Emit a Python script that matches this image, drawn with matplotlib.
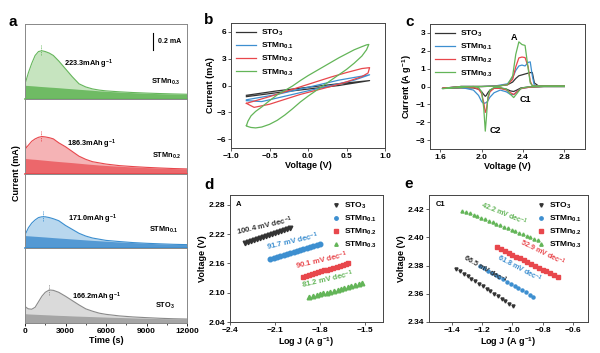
import numpy as np
import matplotlib
matplotlib.use('Agg')
import matplotlib.pyplot as plt

plt.rcParams['font.family'] = ['Liberation Sans', 'DejaVu Sans']
plt.rcParams['font.weight'] = 'bold'
plt.rcParams['axes.labelweight'] = 'bold'
plt.rcParams['mathtext.fontset'] = 'custom'
plt.rcParams['mathtext.bf'] = 'Liberation Sans:bold'
plt.rcParams['mathtext.rm'] = 'Liberation Sans:bold'
plt.rcParams['mathtext.default'] = 'bf'

names = ['STO$_3$', 'STMn$_{0.1}$', 'STMn$_{0.2}$', 'STMn$_{0.3}$']
colors = ['#333333', '#3d8fd0', '#e8474c', '#63b558']

# ---- panel a: discharge current vs time
t_a = [0, 60, 250, 500, 750, 1000, 1250, 1500, 1800, 2100, 2500, 3000, 3500,
       4000, 4500, 5000, 5500, 6000, 7000, 8000, 9000, 10000, 11000, 12000]
cur_a = {
    'STMn0.3': [0.26, 0.22, 0.33, 0.45, 0.55, 0.60, 0.61, 0.60, 0.58, 0.55, 0.48, 0.38, 0.28,
                0.19, 0.15, 0.125, 0.11, 0.10, 0.088, 0.079, 0.072, 0.066, 0.061, 0.057],
    'STMn0.2': [0.55, 0.32, 0.36, 0.41, 0.44, 0.46, 0.47, 0.465, 0.455, 0.44, 0.39, 0.34, 0.28,
                0.22, 0.18, 0.15, 0.135, 0.12, 0.10, 0.088, 0.078, 0.07, 0.063, 0.058],
    'STMn0.1': [0.22, 0.19, 0.26, 0.32, 0.36, 0.39, 0.40, 0.40, 0.39, 0.375, 0.35, 0.29, 0.24,
                0.19, 0.155, 0.13, 0.115, 0.10, 0.085, 0.072, 0.063, 0.056, 0.05, 0.046],
    'STO3':    [0.23, 0.20, 0.18, 0.175, 0.20, 0.27, 0.34, 0.39, 0.42, 0.415, 0.39, 0.34, 0.285,
                0.23, 0.18, 0.15, 0.125, 0.11, 0.09, 0.077, 0.068, 0.06, 0.054, 0.05],
}
base_a = {
    'STMn0.3': [0.18, 0.17, 0.168, 0.165, 0.162, 0.158, 0.155, 0.152, 0.148, 0.145, 0.14, 0.133, 0.127,
                0.12, 0.114, 0.108, 0.10, 0.095, 0.085, 0.077, 0.07, 0.064, 0.06, 0.055],
    'STMn0.2': [0.2, 0.19, 0.187, 0.183, 0.18, 0.176, 0.172, 0.168, 0.163, 0.158, 0.152, 0.145, 0.138,
                0.13, 0.122, 0.115, 0.108, 0.102, 0.092, 0.083, 0.075, 0.068, 0.062, 0.057],
    'STMn0.1': [0.17, 0.16, 0.158, 0.155, 0.152, 0.149, 0.146, 0.143, 0.139, 0.135, 0.13, 0.124, 0.118,
                0.112, 0.106, 0.1, 0.095, 0.09, 0.08, 0.072, 0.064, 0.057, 0.051, 0.046],
    'STO3':    [0.12, 0.118, 0.115, 0.113, 0.111, 0.109, 0.107, 0.105, 0.103, 0.1, 0.097, 0.094, 0.09,
                0.087, 0.084, 0.081, 0.078, 0.075, 0.07, 0.065, 0.06, 0.056, 0.052, 0.049],
}
peak_a = {'STMn0.3': (1150, 0.61), 'STMn0.2': (1200, 0.47), 'STMn0.1': (1300, 0.40), 'STO3': (1800, 0.42)}
cap_a = {'STMn0.3': '223.3mAh g$^{-1}$', 'STMn0.2': '186.3mAh g$^{-1}$',
         'STMn0.1': '171.0mAh g$^{-1}$', 'STO3': '166.2mAh g$^{-1}$'}
lab_a = {'STMn0.3': 'STMn$_{0.3}$', 'STMn0.2': 'STMn$_{0.2}$', 'STMn0.1': 'STMn$_{0.1}$', 'STO3': 'STO$_3$'}
cap_pos = {'STMn0.3': (4700, 0.44), 'STMn0.2': (4900, 0.37), 'STMn0.1': (5000, 0.37), 'STO3': (5300, 0.33)}
lab_pos = {'STMn0.3': (10400, 0.21), 'STMn0.2': (10450, 0.23), 'STMn0.1': (10250, 0.23), 'STO3': (10350, 0.22)}
a_order = ['STMn0.3', 'STMn0.2', 'STMn0.1', 'STO3']
a_style = {'STMn0.3': ('#66b65c', '#c6e4bf', '#6fbb64'),
           'STMn0.2': ('#e8474c', '#f5b3b5', '#ec676b'),
           'STMn0.1': ('#3b8ecf', '#b8d7ee', '#5499d3'),
           'STO3':    ('#8a8a8a', '#dadada', '#a5a5a5')}

# ---- panel b: CV loops (V, mA)
cv_b = {
    'STO3': ([-0.8, -0.4, 0.0, 0.4, 0.8, 0.4, 0.0, -0.4, -0.8],
             [-1.1, -0.6, -0.2, 0.2, 0.55, 0.0, -0.4, -0.8, -1.25]),
    'STMn0.1': ([-0.8, -0.6, -0.4, -0.2, 0.0, 0.2, 0.4, 0.6, 0.8, 0.6, 0.4, 0.2, 0.0, -0.2, -0.4, -0.6, -0.8],
                [-1.6, -1.3, -1.0, -0.6, -0.2, 0.2, 0.6, 0.9, 1.2, 0.6, 0.2, -0.2, -0.6, -1.0, -1.4, -1.8, -1.7]),
    'STMn0.2': ([-0.8, -0.7, -0.5, -0.3, -0.1, 0.1, 0.3, 0.5, 0.7, 0.8,
                 0.78, 0.7, 0.5, 0.3, 0.1, -0.1, -0.3, -0.5, -0.7, -0.8],
                [-2.0, -1.75, -1.25, -0.7, -0.15, 0.4, 0.95, 1.45, 1.9, 2.0,
                 1.4, 1.0, 0.4, -0.1, -0.55, -1.0, -1.55, -2.1, -2.45, -2.0]),
    'STMn0.3': ([-0.8, -0.78, -0.74, -0.68, -0.6, -0.5, -0.4, -0.3, -0.2, -0.1, 0.0, 0.1, 0.2, 0.3, 0.4,
                 0.5, 0.6, 0.7, 0.76, 0.79,
                 0.76, 0.7, 0.6, 0.5, 0.4, 0.3, 0.2, 0.1, 0.0, -0.1, -0.2, -0.3, -0.4, -0.5, -0.6,
                 -0.68, -0.74, -0.78, -0.8],
                [-4.5, -4.0, -3.4, -2.9, -2.4, -1.7, -1.05, -0.55, -0.05, 0.55, 1.1, 1.6, 2.1, 2.6, 3.1,
                 3.55, 4.0, 4.35, 4.55, 4.6,
                 4.0, 3.3, 2.5, 1.8, 1.2, 0.6, 0.0, -0.6, -1.2, -1.85, -2.6, -3.3, -3.9, -4.35, -4.65,
                 -4.75, -4.7, -4.6, -4.5]),
}

# ---- panel c: slow CV (V, A g-1)
vc_c = [2.80, 2.60, 2.45, 2.38, 2.34, 2.31, 2.28, 2.24, 2.18, 2.12, 2.08, 2.06, 2.045, 2.035,
        2.02, 2.00, 1.97, 1.92, 1.80, 1.62]
va_c = [1.62, 1.80, 2.00, 2.15, 2.25, 2.30, 2.33, 2.36, 2.39, 2.42, 2.45, 2.47, 2.49, 2.51, 2.55, 2.80]
ic_c = {
    'STO3': [0.0, 0.0, -0.03, -0.08, -0.2, -0.28, -0.25, -0.15, -0.1, -0.1, -0.2, -0.35, -0.5, -0.55,
             -0.45, -0.3, -0.15, -0.08, -0.08, -0.1],
    'STMn0.1': [0.0, 0.0, -0.05, -0.12, -0.3, -0.45, -0.45, -0.3, -0.2, -0.35, -0.6, -0.8, -0.9, -0.92,
                -0.95, -0.85, -0.5, -0.2, -0.05, -0.1],
    'STMn0.2': [0.0, 0.0, -0.05, -0.12, -0.3, -0.45, -0.35, -0.2, -0.1, -0.1, -0.3, -0.7, -1.3, -1.45,
                -0.9, -0.4, -0.15, -0.05, -0.05, -0.1],
    'STMn0.3': [0.0, 0.0, -0.02, -0.1, -0.4, -0.62, -0.45, -0.15, -0.05, -0.05, -0.2, -0.6, -1.8, -2.5,
                -1.2, -0.3, -0.05, 0.0, -0.05, -0.12],
}
ia_c = {
    'STO3': [-0.1, 0.0, 0.0, 0.02, 0.1, 0.25, 0.45, 0.6, 0.65, 0.7, 0.75, 0.78, 0.78, 0.2, 0.03, 0.03],
    'STMn0.1': [-0.1, 0.0, 0.0, 0.05, 0.15, 0.5, 0.9, 1.15, 1.2, 1.15, 1.35, 1.38, 0.6, 0.05, 0.03, 0.03],
    'STMn0.2': [-0.1, 0.0, 0.0, 0.02, 0.1, 0.4, 1.1, 1.6, 1.65, 1.62, 1.1, 0.3, 0.05, 0.03, 0.03, 0.03],
    'STMn0.3': [-0.12, 0.0, 0.0, 0.02, 0.1, 0.6, 1.8, 2.5, 2.35, 2.3, 1.0, 0.2, 0.05, 0.03, 0.03, 0.03],
}

# ---- panel d: Tafel, peak A
tafel_d = {
    'STO3': ([-2.30, -2.28, -2.26, -2.24, -2.22, -2.20, -2.18, -2.16, -2.14, -2.12, -2.10, -2.08, -2.06, -2.04, -2.02, -2.00],
             [2.202, 2.204, 2.206, 2.208, 2.210, 2.212, 2.214, 2.216, 2.218, 2.220, 2.222, 2.224, 2.226, 2.228, 2.230, 2.232]),
    'STMn0.1': ([-2.13, -2.108, -2.086, -2.064, -2.042, -2.02, -1.998, -1.976, -1.954, -1.932, -1.91, -1.888, -1.866, -1.844, -1.822, -1.80],
                [2.170, 2.172, 2.174, 2.176, 2.178, 2.180, 2.182, 2.184, 2.186, 2.188, 2.190, 2.192, 2.194, 2.196, 2.198, 2.200]),
    'STMn0.2': ([-1.91, -1.89, -1.87, -1.85, -1.83, -1.81, -1.79, -1.77, -1.75, -1.73, -1.71, -1.69, -1.67, -1.65, -1.63, -1.61],
                [2.133, 2.135, 2.137, 2.138, 2.140, 2.142, 2.144, 2.146, 2.147, 2.149, 2.151, 2.153, 2.155, 2.156, 2.158, 2.160]),
    'STMn0.3': ([-1.87, -1.847, -1.823, -1.80, -1.777, -1.753, -1.73, -1.707, -1.683, -1.66, -1.637, -1.613, -1.59, -1.567, -1.543, -1.52],
                [2.091, 2.093, 2.095, 2.097, 2.099, 2.100, 2.102, 2.104, 2.106, 2.108, 2.110, 2.112, 2.114, 2.115, 2.117, 2.119]),
}
slope_d = {'STO3': ('100.4 mV dec$^{-1}$', -2.17, 2.237), 'STMn0.1': ('91.7 mV dec$^{-1}$', -1.98, 2.204),
           'STMn0.2': ('90.1 mV dec$^{-1}$', -1.79, 2.165), 'STMn0.3': ('81.2 mV dec$^{-1}$', -1.75, 2.127)}

# ---- panel e: Tafel, peak C1
tafel_e = {
    'STO3': ([-1.37, -1.345, -1.32, -1.295, -1.27, -1.245, -1.22, -1.195, -1.17, -1.145, -1.12, -1.095, -1.07, -1.045, -1.02, -0.995],
             [2.3775, 2.3758, 2.3740, 2.3723, 2.3705, 2.3688, 2.3670, 2.3653, 2.3635, 2.3618, 2.3600, 2.3583, 2.3565, 2.3548, 2.3530, 2.3513]),
    'STMn0.1': ([-1.21, -1.185, -1.16, -1.135, -1.11, -1.085, -1.06, -1.035, -1.01, -0.985, -0.96, -0.935, -0.91, -0.885, -0.86],
                [2.3795, 2.3780, 2.3764, 2.3749, 2.3733, 2.3718, 2.3702, 2.3687, 2.3671, 2.3656, 2.3640, 2.3625, 2.3610, 2.3594, 2.3579]),
    'STMn0.2': ([-1.10, -1.075, -1.05, -1.025, -1.00, -0.975, -0.95, -0.925, -0.90, -0.875, -0.85, -0.825, -0.80, -0.775, -0.75, -0.725, -0.70],
                [2.3930, 2.3917, 2.3904, 2.3890, 2.3877, 2.3864, 2.3851, 2.3837, 2.3824, 2.3811, 2.3798, 2.3785, 2.3771, 2.3758, 2.3745, 2.3732, 2.3718]),
    'STMn0.3': ([-1.33, -1.305, -1.28, -1.255, -1.23, -1.205, -1.18, -1.155, -1.13, -1.105, -1.08, -1.055, -1.03, -1.005, -0.98, -0.955, -0.93, -0.905, -0.88, -0.855, -0.83],
                [2.4190, 2.4179, 2.4169, 2.4158, 2.4148, 2.4137, 2.4127, 2.4116, 2.4106, 2.4095, 2.4084, 2.4074, 2.4063, 2.4053, 2.4042, 2.4032, 2.4021, 2.4011, 2.4000, 2.3990, 2.3979]),
}
slope_e = {'STO3': ('66.5 mV dec$^{-1}$', -1.18, 2.3772), 'STMn0.1': ('61.8 mV dec$^{-1}$', -0.955, 2.3778),
           'STMn0.2': ('52.9 mV dec$^{-1}$', -0.80, 2.3892), 'STMn0.3': ('42.2 mV dec$^{-1}$', -1.055, 2.4168)}
rot_e = {'STO3': -30, 'STMn0.1': -28, 'STMn0.2': -26, 'STMn0.3': -22}

keys = ['STO3', 'STMn0.1', 'STMn0.2', 'STMn0.3']
markers = ['v', 'o', 's', '^']

fig = plt.figure(figsize=(6, 3.53), dpi=100)
FS = 6
spine_c = '#444444'


def style(ax):
    for s in ax.spines.values():
        s.set_color(spine_c)
        s.set_linewidth(0.7)
    ax.tick_params(labelsize=FS, length=2, width=0.6, pad=1.5, color=spine_c)


# panel a
h_a = 299 / 353 / 4
axes_a = []
for i, k in enumerate(a_order):
    ax = fig.add_axes([25 / 600, 1 - 24 / 353 - (i + 1) * h_a, 162 / 600, h_a])
    line_c, light_c, dark_c = a_style[k]
    cur = np.array(cur_a[k])
    base = np.minimum(np.array(base_a[k]), cur)
    ax.fill_between(t_a, 0, cur, color=light_c, lw=0)
    ax.fill_between(t_a, 0, base, color=dark_c, lw=0)
    ax.plot(t_a, cur, color=line_c, lw=0.8)
    tp, ip = peak_a[k]
    ax.plot([tp, tp], [ip - 0.06, ip + 0.07], color=line_c, lw=0.6, ls=(0, (1.5, 1.2)))
    ax.text(*cap_pos[k], cap_a[k], fontsize=5.3, ha='center', va='center')
    ax.text(*lab_pos[k], lab_a[k], fontsize=5.3, ha='center', va='center')
    ax.set_xlim(0, 12000)
    ax.set_ylim(0, 0.95)
    ax.set_yticks([])
    for s in ax.spines.values():
        s.set_color('#888888')
        s.set_linewidth(0.7)
    ax.spines['bottom'].set_color(line_c)
    ax.spines['bottom'].set_linewidth(1.2)
    ax.set_xticks([0, 3000, 6000, 9000, 12000])
    ax.set_xticks([1500, 4500, 7500, 10500], minor=True)
    ax.tick_params(labelsize=FS, length=2, width=0.6, pad=1.5)
    ax.tick_params(which='minor', length=1.2, width=0.5)
    if i < 3:
        ax.tick_params(labelbottom=False, length=0, which='both')
    axes_a.append(ax)
axes_a[-1].spines['bottom'].set_color('#888888')
axes_a[-1].spines['bottom'].set_linewidth(0.7)
axes_a[-1].set_xlabel('Time (s)', fontsize=6.5, labelpad=1)
axes_a[0].plot([9500, 9500], [0.62, 0.83], color='k', lw=0.8)
axes_a[0].text(9850, 0.725, '0.2 mA', fontsize=5, va='center')
fig.text(0.028, 0.51, 'Current (mA)', rotation=90, fontsize=6.5, fontweight='bold', ha='center', va='center')

# panel b
axb = fig.add_axes([231 / 600, 1 - 148 / 353, 154 / 600, 125 / 353])
for k, n, c in zip(keys, names, colors):
    v, i_ = cv_b[k]
    axb.plot(v, i_, color=c, lw=0.9, label=n)
axb.set_xlim(-1, 1)
axb.set_ylim(-7, 7)
axb.set_xticks([-1.0, -0.5, 0.0, 0.5, 1.0])
axb.set_yticks([-6, -3, 0, 3, 6])
axb.set_xlabel('Voltage (V)', fontsize=6.5, labelpad=1)
axb.set_ylabel('Current (mA)', fontsize=6.5, labelpad=1)
axb.legend(loc='upper left', fontsize=6, frameon=False, handlelength=2.4, labelspacing=0.35,
           borderaxespad=0.2, handletextpad=0.6)
style(axb)

# panel c
axc = fig.add_axes([430 / 600, 1 - 149 / 353, 155 / 600, 125 / 353])
for k, n, c in zip(keys, names, colors):
    axc.plot(list(vc_c) + list(va_c), ic_c[k] + ia_c[k], color=c, lw=0.9, label=n)
axc.set_xlim(1.5, 3.0)
axc.set_ylim(-3.5, 3.5)
axc.set_xticks([1.6, 2.0, 2.4, 2.8])
axc.set_yticks([-3, -2, -1, 0, 1, 2, 3])
axc.set_xlabel('Voltage (V)', fontsize=6.5, labelpad=1)
axc.set_ylabel('Current (A g$^{-1}$)', fontsize=6.5, labelpad=1)
axc.text(2.31, 2.75, 'A', fontsize=6.5, ha='center', va='center')
axc.text(2.42, -0.75, 'C1', fontsize=6.5, ha='center', va='center')
axc.text(2.13, -2.45, 'C2', fontsize=6.5, ha='center', va='center')
axc.legend(loc='upper left', fontsize=6, frameon=False, handlelength=2.4, labelspacing=0.35,
           borderaxespad=0.2, handletextpad=0.6)
style(axc)

# panel d
axd = fig.add_axes([230 / 600, 1 - 322 / 353, 153 / 600, 127 / 353])
for k, n, c, m in zip(keys, names, colors, markers):
    x, y = tafel_d[k]
    axd.plot(x, y, ls='none', marker=m, ms=3.3, color=c, label=n)
    txt, tx, ty = slope_d[k]
    axd.text(tx, ty, txt, color=c, fontsize=5.6, rotation=13, ha='center', va='center')
axd.set_xlim(-2.4, -1.38)
axd.set_ylim(2.04, 2.30)
axd.set_xticks([-2.4, -2.1, -1.8, -1.5])
axd.set_yticks([2.04, 2.10, 2.16, 2.22, 2.28])
axd.set_xlabel('Log J (A g$^{-1}$)', fontsize=6.5, labelpad=1)
axd.set_ylabel('Voltage (V)', fontsize=6.5, labelpad=1)
axd.text(0.04, 0.95, 'A', transform=axd.transAxes, fontsize=5.5, va='top')
axd.legend(loc='upper right', fontsize=6, frameon=False, handlelength=0.8, labelspacing=0.35,
           borderaxespad=0.3, handletextpad=0.6, markerscale=0.75)
style(axd)

# panel e
axe = fig.add_axes([429 / 600, 1 - 322 / 353, 159 / 600, 127 / 353])
for k, n, c, m in zip(keys, names, colors, markers):
    x, y = tafel_e[k]
    axe.plot(x, y, ls='none', marker=m, ms=2.2, color=c, label=n)
    txt, tx, ty = slope_e[k]
    axe.text(tx, ty, txt, color=c, fontsize=5.2, rotation=rot_e[k], ha='center', va='center')
axe.set_xlim(-1.55, -0.5)
axe.set_ylim(2.34, 2.43)
axe.set_xticks([-1.4, -1.2, -1.0, -0.8, -0.6])
axe.set_yticks([2.34, 2.36, 2.38, 2.40, 2.42])
axe.set_xlabel('Log J (A g$^{-1}$)', fontsize=6.5, labelpad=1)
axe.set_ylabel('Voltage (V)', fontsize=6.5, labelpad=1)
axe.text(0.04, 0.95, 'C1', transform=axe.transAxes, fontsize=5.5, va='top')
axe.legend(loc='upper right', fontsize=6, frameon=False, handlelength=0.8, labelspacing=0.35,
           borderaxespad=0.3, handletextpad=0.6, markerscale=1.1)
style(axe)

for lab, (px, py) in zip('abcde', [(13, 22), (209, 20), (410, 22), (209, 185), (409, 184)]):
    fig.text(px / 600, 1 - py / 353, lab, fontsize=11, fontweight='bold', ha='center', va='center')

fig.savefig('out.png', dpi=100)
